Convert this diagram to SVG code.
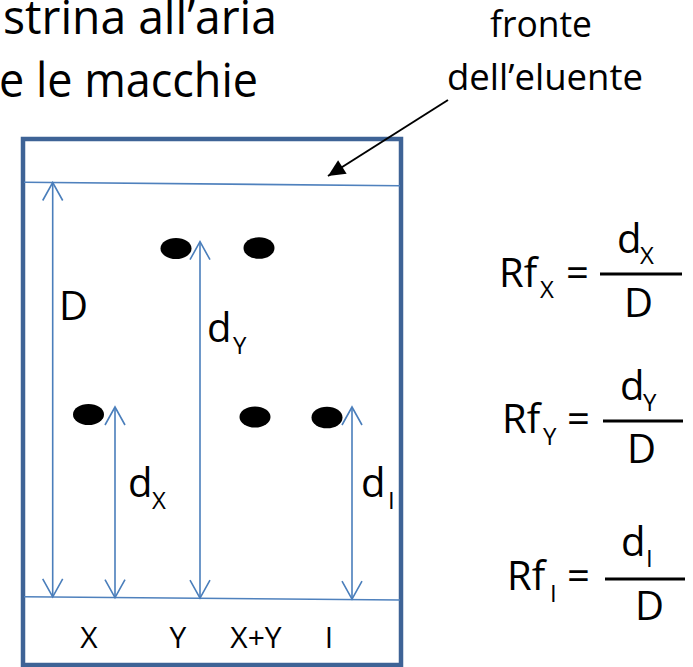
<svg xmlns="http://www.w3.org/2000/svg" width="693" height="667" viewBox="0 0 693 667">
<defs>
<style>
text{font-family:"Open Sans","Noto Sans","Liberation Sans",sans-serif;fill:#000}
.title{font-size:48px}
.lab{font-size:40px}
.sub{font-size:24px}
.bot{font-size:30px;text-anchor:middle}
.note{font-size:37px;text-anchor:middle}
.thin{stroke:#4f81bd;stroke-width:1.6;fill:none}
.dim{stroke:#4a7ebb;stroke-width:1.6;fill:none}
.bar{stroke:#000;stroke-width:3}
.spot{fill:#000}
</style>
<marker id="open" viewBox="-20 -12 22 24" refX="0" refY="0" markerWidth="22" markerHeight="24" markerUnits="userSpaceOnUse" orient="auto-start-reverse">
<path d="M-18,-10 L0,0 L-18,10" fill="none" stroke="#4a7ebb" stroke-width="1.6"/>
</marker>
<marker id="solid" viewBox="-18 -9 19 18" refX="0" refY="0" markerWidth="19" markerHeight="18" markerUnits="userSpaceOnUse" orient="auto">
<path d="M-17,-8 L0,0 L-17,8 Z" fill="#000"/>
</marker>
</defs>
<rect width="693" height="667" fill="#fff"/>

<g id="title">
<text class="title" x="3" y="34" textLength="274" lengthAdjust="spacingAndGlyphs">strina all’aria</text>
<text class="title" x="-1" y="97" textLength="259" lengthAdjust="spacingAndGlyphs">e le macchie</text>
</g>

<g id="plate">
<rect x="23" y="139" width="378" height="526" fill="none" stroke="#3e6396" stroke-width="4.5"/>
<line id="front-line" class="thin" x1="24" y1="182.3" x2="400" y2="185.7"/>
<line id="start-line" class="thin" x1="24" y1="596.7" x2="400" y2="600"/>
</g>

<g id="spots">
<ellipse class="spot" cx="176" cy="248.5" rx="15.5" ry="10.5"/>
<ellipse class="spot" cx="259" cy="248" rx="15.5" ry="10.8"/>
<ellipse class="spot" cx="88.5" cy="414.5" rx="15.5" ry="10.5"/>
<ellipse class="spot" cx="255" cy="417" rx="15.5" ry="10.5"/>
<ellipse class="spot" cx="327" cy="417.5" rx="15.5" ry="10.8"/>
</g>

<g id="note">
<text class="note" x="541" y="37" textLength="102" lengthAdjust="spacingAndGlyphs">fronte</text>
<text class="note" x="545" y="90" textLength="196" lengthAdjust="spacingAndGlyphs">dell’eluente</text>
</g>

<g id="connectors">
<line x1="448" y1="100" x2="328" y2="176" stroke="#000" stroke-width="2" marker-end="url(#solid)"/>
<line class="dim" x1="52.7" y1="182.5" x2="52.7" y2="596.8" marker-start="url(#open)" marker-end="url(#open)"/>
<line class="dim" x1="200" y1="241.7" x2="200" y2="598.2" marker-start="url(#open)" marker-end="url(#open)"/>
<line class="dim" x1="115" y1="407" x2="115" y2="597.7" marker-start="url(#open)" marker-end="url(#open)"/>
<line class="dim" x1="352" y1="407" x2="352" y2="599.2" marker-start="url(#open)" marker-end="url(#open)"/>
</g>

<g id="dim-labels">
<text class="lab" x="59" y="320">D</text>
<text class="lab" x="207" y="342">d</text><text class="sub" x="233" y="354">Y</text>
<text class="lab" x="128" y="497">d</text><text class="sub" x="152" y="509">X</text>
<text class="lab" x="361" y="497">d</text><text class="sub" x="388" y="509">I</text>
</g>

<g id="lanes">
<text class="bot" x="89" y="648">X</text>
<text class="bot" x="178" y="648">Y</text>
<text class="bot" x="256" y="648">X+Y</text>
<text class="bot" x="329" y="648">I</text>
</g>

<g id="rf-x">
<text class="lab" x="499" y="287">Rf</text><text class="sub" x="540" y="298">X</text>
<text class="lab" x="566" y="287">=</text>
<line class="bar" x1="600" y1="274" x2="682" y2="274"/>
<text class="lab" x="617" y="253">d</text><text class="sub" x="640" y="264">X</text>
<text class="lab" x="624" y="317">D</text>
</g>

<g id="rf-y">
<text class="lab" x="502" y="433">Rf</text><text class="sub" x="543" y="445">Y</text>
<text class="lab" x="567" y="433">=</text>
<line class="bar" x1="603" y1="421" x2="683" y2="421"/>
<text class="lab" x="620" y="400">d</text><text class="sub" x="643" y="411">Y</text>
<text class="lab" x="627" y="463">D</text>
</g>

<g id="rf-i">
<text class="lab" x="507" y="590">Rf</text><text class="sub" x="550" y="602">I</text>
<text class="lab" x="567" y="590">=</text>
<line class="bar" x1="605" y1="579" x2="685" y2="579"/>
<text class="lab" x="621" y="556">d</text><text class="sub" x="646" y="567">I</text>
<text class="lab" x="635" y="620">D</text>
</g>
</svg>
